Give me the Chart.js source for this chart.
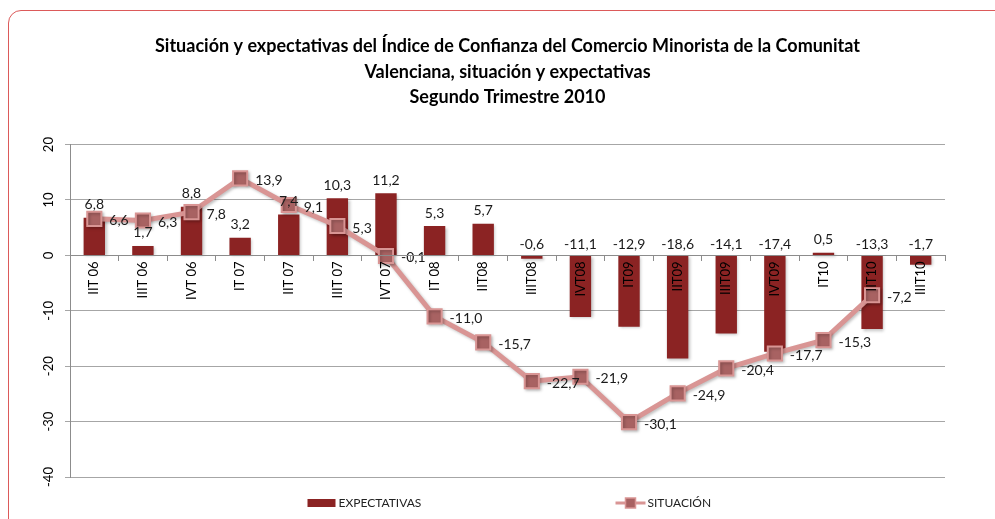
<!DOCTYPE html>
<html>
<head>
<meta charset="utf-8">
<script src="https://cdn.jsdelivr.net/npm/chart.js@4/dist/chart.umd.min.js"></script>
<style>
  html, body { margin: 0; padding: 0; background: #fff; }
  #wrap { position: relative; width: 995px; height: 519px; overflow: hidden; }
  #frame { position: absolute; left: 8px; top: 10px; width: 1010px; height: 600px;
           border: 1px solid #dc5a5a; border-radius: 13px; box-sizing: border-box; }
  #c { position: absolute; left: 0; top: 0; }
</style>
</head>
<body>
<div id="wrap">
  <div id="frame"></div>
  <canvas id="c" width="995" height="519"></canvas>
</div>
<script>
const titleLines = [
  'Situación y expectativas del Índice de Confianza del Comercio Minorista de la Comunitat',
  'Valenciana, situación y expectativas',
  'Segundo Trimestre 2010'
];
const categories = ['IIT 06','IIIT 06','IVT 06','IT 07','IIT 07','IIIT 07','IVT 07','IT 08','IIT08','IIIT08',
                    'IVT08','IT09','IIT09','IIIT09','IVT09','IT10','IIT10','IIIT10'];
const expectativas = [6.8, 1.7, 8.8, 3.2, 7.4, 10.3, 11.2, 5.3, 5.7, -0.6,
                      -11.1, -12.9, -18.6, -14.1, -17.4, 0.5, -13.3, -1.7];
const situacion = [6.6, 6.3, 7.8, 13.9, 9.1, 5.3, -0.1, -11.0, -15.7, -22.7,
                   -21.9, -30.1, -24.9, -20.4, -17.7, -15.3, -7.2, null];
const yTicks = { min: -40, max: 20, step: 10 };
const seriesNames = ['EXPECTATIVAS', 'SITUACIÓN'];

const BAR = '#8b2323';
const LINE = '#d99594';
const MARK = '#a86262';
const FONT = 'Lato, "Open Sans", sans-serif';

const fmt = v => v.toFixed(1).replace('.', ',');

const labelPlugin = {
  id: 'valueLabels',
  afterDatasetsDraw(chart) {
    const ctx = chart.ctx;
    ctx.save();
    ctx.font = '14px ' + FONT;
    ctx.fillStyle = '#1a1a1a';
    ctx.textBaseline = 'middle';
    const mb = chart.getDatasetMeta(0);
    ctx.textAlign = 'center';
    mb.data.forEach((el, i) => {
      const v = expectativas[i];
      const top = Math.min(el.y, el.base);
      ctx.fillText(fmt(v), el.x, top - (v >= 0 ? 13 : 11));
    });
    const ml = chart.getDatasetMeta(1);
    ctx.textAlign = 'left';
    ml.data.forEach((el, i) => {
      const v = situacion[i];
      if (v === null || v === undefined) return;
      ctx.fillText(fmt(v), el.x + 15, el.y + 2);
    });
    ctx.restore();
  }
};

const legendPlugin = {
  id: 'customLegend',
  afterDraw(chart) {
    const ctx = chart.ctx;
    const ca = chart.chartArea;
    const cx = (ca.left + ca.right) / 2;
    const y = 503;
    ctx.save();
    ctx.font = '12px ' + FONT;
    ctx.textBaseline = 'middle';
    ctx.textAlign = 'left';
    let x0 = cx - 200;
    ctx.fillStyle = BAR;
    ctx.fillRect(x0, y - 4, 28, 8);
    ctx.fillStyle = '#222';
    ctx.fillText(seriesNames[0], x0 + 31, y);
    let x1 = cx + 108;
    ctx.strokeStyle = LINE;
    ctx.lineWidth = 3;
    ctx.beginPath();
    ctx.moveTo(x1, y);
    ctx.lineTo(x1 + 30, y);
    ctx.stroke();
    ctx.fillStyle = MARK;
    ctx.strokeStyle = LINE;
    ctx.lineWidth = 1.5;
    ctx.fillRect(x1 + 10, y - 5, 10, 10);
    ctx.strokeRect(x1 + 10, y - 5, 10, 10);
    ctx.fillStyle = '#222';
    ctx.fillText(seriesNames[1], x1 + 32, y);
    ctx.restore();
  }
};

const shadowPlugin = {
  id: 'shadows',
  beforeDatasetDraw(chart) {
    const ctx = chart.ctx;
    ctx.save();
    ctx.shadowColor = 'rgba(0,0,0,0.25)';
    ctx.shadowBlur = 3;
    ctx.shadowOffsetX = 1.5;
    ctx.shadowOffsetY = 1.5;
  },
  afterDatasetDraw(chart) {
    chart.ctx.restore();
  }
};

new Chart(document.getElementById('c'), {
  data: {
    labels: categories,
    datasets: [
      {
        type: 'bar',
        label: seriesNames[0],
        data: expectativas,
        backgroundColor: BAR,
        borderWidth: 0,
        categoryPercentage: 1.0,
        barPercentage: 0.44,
        order: 2
      },
      {
        type: 'line',
        label: seriesNames[1],
        data: situacion,
        borderColor: LINE,
        borderWidth: 5,
        backgroundColor: MARK,
        pointStyle: 'rect',
        pointRadius: 10,
        pointBorderWidth: 2,
        pointBorderColor: LINE,
        pointBackgroundColor: MARK,
        tension: 0,
        spanGaps: false,
        order: 1
      }
    ]
  },
  options: {
    responsive: false,
    animation: false,
    events: [],
    layout: { padding: { left: 30, right: 50, top: 0, bottom: 42 } },
    plugins: {
      legend: { display: false },
      tooltip: { enabled: false },
      title: {
        display: true,
        fullSize: false,
        text: titleLines,
        color: '#000',
        font: { family: FONT, size: 18, weight: 'bold', lineHeight: 1.4 },
        padding: { top: 34, bottom: 35 }
      }
    },
    scales: {
      x: {
        type: 'category',
        position: { y: 0 },
        offset: true,
        grid: { display: true, drawOnChartArea: false, drawTicks: true, tickLength: 5, offset: true, color: '#8c8c8c', z: 1 },
        border: { display: true, color: '#8c8c8c', width: 1, z: 1 },
        ticks: {
          z: 1,
          autoSkip: false, minRotation: 90, maxRotation: 90, padding: 1,
          color: '#000', font: { family: FONT, size: 13 }
        }
      },
      y: {
        position: 'left',
        min: yTicks.min, max: yTicks.max,
        afterFit(scale) { scale.width = 40; },
        grid: { color: '#a6a6a6', lineWidth: 1, drawTicks: true, tickLength: 5 },
        border: { display: true, color: '#8c8c8c' },
        ticks: {
          stepSize: yTicks.step, minRotation: 90, maxRotation: 90, crossAlign: 'center',
          padding: 6, color: '#000', font: { family: FONT, size: 13 }
        }
      }
    }
  },
  plugins: [shadowPlugin, labelPlugin, legendPlugin]
});
</script>
</body>
</html>
